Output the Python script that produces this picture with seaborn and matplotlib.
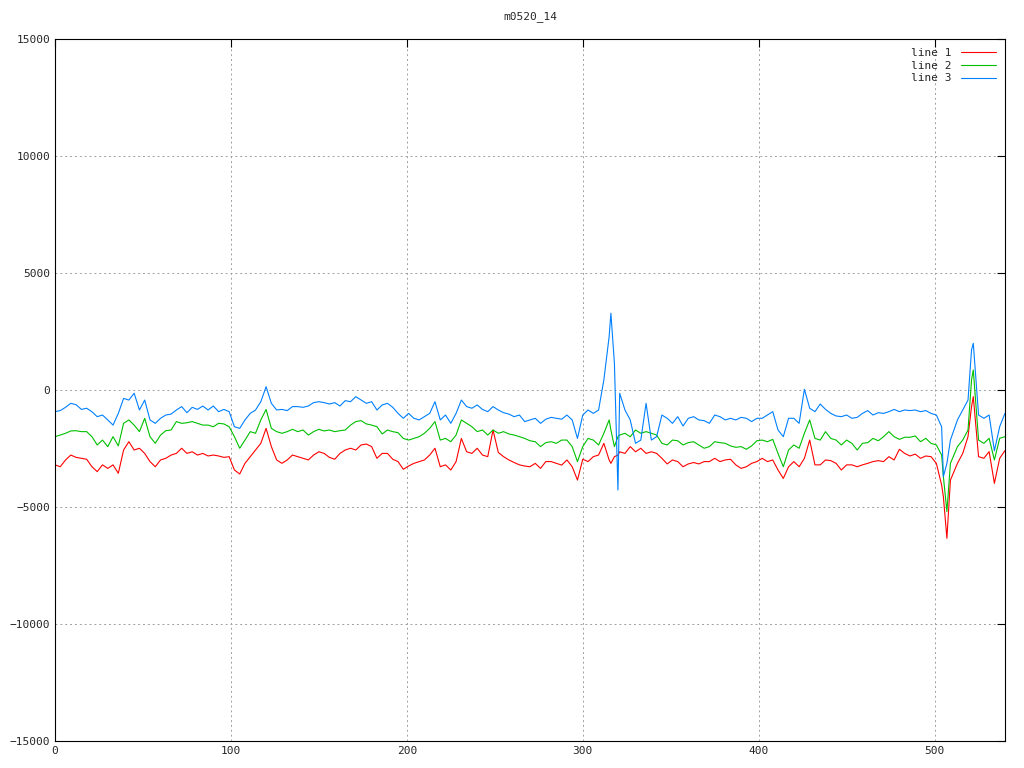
import pandas as pd
import matplotlib
matplotlib.use("Agg")
import matplotlib.pyplot as plt
import seaborn as sns

# sample positions (every 3 units, plus a few extra at sharp spikes)
x_vals = (list(range(0, 316, 3)) + [316, 318, 320, 321] + list(range(324, 505, 3))
          + [505, 507, 509] + list(range(513, 520, 3)) + [521, 522] + list(range(525, 541, 3)))

line1 = [  # red
    -3200, -3280, -2990, -2780, -2880, -2920, -2960, -3280, -3490, -3200, -3350, -3200, -3560, -2565, -2210, -2565, -2490, -2710, -3060, -3280, -2990, -2920, -2780,
    -2710, -2490, -2710, -2640, -2780, -2710, -2820, -2780, -2820, -2880, -2850, -3420, -3590, -3135, -2850, -2565, -2280, -1640, -2420, -2990, -3135, -2990, -2780,
    -2850, -2920, -2990, -2780, -2640, -2710, -2880, -2960, -2710, -2565, -2490, -2565, -2350, -2310, -2420, -2920, -2710, -2710, -2960, -3060, -3390, -3250, -3135,
    -3060, -2990, -2780, -2490, -3280, -3200, -3420, -3060, -2070, -2640, -2710, -2490, -2780, -2850, -1710, -2670, -2850, -2990, -3100, -3200, -3250, -3280,
    -3135, -3350, -3060, -3060, -3135, -3210, -2990, -3280, -3850, -2960, -3060, -2850, -2780, -2280, -2990,
    -3135, -2850, -2780, -2640,
    -2710, -2420, -2640, -2490, -2710, -2640,
    -2710, -2920, -3160, -2990, -3060, -3280, -3160, -3100, -3160, -3060, -3060, -2920, -3060, -2990, -2960, -3200, -3350, -3280, -3135, -3060, -2920, -3060, -2990,
    -3420, -3780, -3280, -3060, -3280, -2920, -2140, -3200, -3200, -2990, -3020, -3135, -3420, -3200, -3200, -3280, -3200, -3135, -3060, -3020, -3060, -2850, -2990,
    -2535, -2710, -2820, -2740, -2920, -2820, -2850, -3135, -4060,
    -4560, -6340, -3850,
    -3135, -2710, -1995,
    -710, -285,
    -2850, -2920, -2635, -3990, -2920, -2590,
]

line2 = [  # green
    -1995, -1925, -1850, -1750, -1740, -1780, -1780, -1995, -2350, -2140, -2420, -1995, -2390, -1425, -1280, -1500, -1780, -1210, -1995, -2280, -1925, -1740, -1710,
    -1350, -1425, -1400, -1350, -1425, -1500, -1500, -1570, -1425, -1450, -1570, -1995, -2490, -2140, -1780, -1850, -1280, -830, -1640, -1780, -1850, -1780, -1680,
    -1780, -1710, -1925, -1780, -1680, -1750, -1710, -1780, -1740, -1710, -1500, -1350, -1310, -1450, -1500, -1570, -1880, -1710, -1780, -1825, -2070, -2140, -2070,
    -1995, -1850, -1640, -1350, -2140, -2070, -2210, -1925, -1280, -1425, -1570, -1780, -1710, -1925, -1710, -1850, -1780, -1880, -1925, -1995, -2070, -2170,
    -2210, -2420, -2250, -2210, -2280, -2140, -2140, -2420, -3060, -2420, -2070, -2140, -2350, -1850, -1280,
    -1710, -2420, -2000, -1925,
    -1850, -2000, -1710, -1850, -1780, -1850,
    -1925, -2280, -2350, -2140, -2170, -2350, -2250, -2210, -2350, -2490, -2420, -2210, -2250, -2280, -2390, -2450, -2420, -2535, -2390, -2170, -2140, -2210, -2110,
    -2710, -3280, -2565, -2350, -2490, -1850, -1280, -2070, -2140, -1780, -2070, -2140, -2350, -2140, -2280, -2565, -2280, -2250, -2070, -2170, -1995, -1780, -1995,
    -2110, -2020, -2020, -1965, -2210, -2065, -2280, -2350, -2780,
    -3700, -5200, -3135,
    -2420, -2140, -1710,
    430, 855,
    -2140, -2280, -2065, -2990, -2065, -1995,
]

line3 = [  # blue
    -926, -880, -740, -570, -630, -830, -780, -930, -1140, -1070, -1280, -1500, -1000, -360, -430, -140, -855, -430, -1280, -1425, -1210, -1070, -1030,
    -855, -710, -970, -740, -830, -685, -855, -685, -926, -830, -926, -1570, -1640, -1280, -1000, -855, -500, 140, -570, -855, -830, -880, -710,
    -710, -740, -685, -540, -500, -540, -600, -540, -685, -455, -500, -285, -430, -570, -500, -855, -640, -570, -740, -1000, -1210, -1000, -1210,
    -1280, -1140, -1000, -500, -1280, -1070, -1425, -1000, -430, -710, -780, -640, -830, -926, -710, -855, -970, -1030, -1140, -1070, -1350, -1280,
    -1210, -1425, -1250, -1170, -1210, -1250, -1070, -1280, -2070, -1070, -855, -1000, -855, 430, 2280,
    3280, 1140, -4275, -140,
    -855, -1280, -2280, -2140, -570, -2140,
    -1995, -1070, -1210, -1425, -1140, -1540, -1210, -1140, -1280, -1310, -1425, -1070, -1140, -1280, -1210, -1280, -1170, -1210, -1350, -1210, -1210, -1070, -926,
    -1710, -1995, -1210, -1210, -1425, 30, -780, -926, -600, -830, -1000, -1110, -1140, -1070, -1210, -1170, -1000, -880, -1070, -970, -1000, -926, -830,
    -926, -855, -880, -855, -926, -880, -1000, -1070, -1570,
    -3700, -3135, -2140,
    -1280, -855, -430,
    1710, 1995,
    -1070, -1210, -1070, -2600, -1570, -1000,
]

series_names = ["line 1", "line 2", "line 3"]
series_colors = ["#ff0000", "#00c000", "#0080ff"]
x_ticks = [0, 100, 200, 300, 400, 500]
y_ticks = [-15000, -10000, -5000, 0, 5000, 10000, 15000]


def main():
    df = pd.DataFrame({"x": x_vals, "line 1": line1, "line 2": line2, "line 3": line3})
    long_df = df.melt(id_vars="x", var_name="series", value_name="value")

    sns.set_style("white")
    plt.rcParams["font.family"] = ["DejaVu Sans Mono"]

    fig = plt.figure(figsize=(10.24, 7.68), dpi=100)
    ax = fig.add_axes([0.0537, 0.0352, 0.9277, 0.914])

    sns.lineplot(
        data=long_df, x="x", y="value", hue="series",
        hue_order=series_names, palette=series_colors,
        linewidth=0.8, ax=ax, estimator=None, sort=False,
    )

    ax.set_xlim(0, 540)
    ax.set_ylim(-15000, 15000)
    ax.set_xticks(x_ticks)
    ax.set_yticks(y_ticks)
    ax.set_xlabel("")
    ax.set_ylabel("")
    ax.set_title("m0520_14", fontsize=8, pad=14)

    ax.grid(True, color="#a0a0a0", linestyle=(0, (2, 3)), linewidth=0.7)
    ax.tick_params(direction="in", length=6, width=0.8, labelsize=8,
                   top=True, right=True, color="black")
    for s in ax.spines.values():
        s.set_color("black")
        s.set_linewidth(0.8)

    ax.legend(loc="upper right", frameon=False, markerfirst=False,
              fontsize=8, handlelength=3.2, labelspacing=0.25,
              borderaxespad=0.4)

    fig.savefig("out.png", dpi=100)


if __name__ == "__main__":
    main()
